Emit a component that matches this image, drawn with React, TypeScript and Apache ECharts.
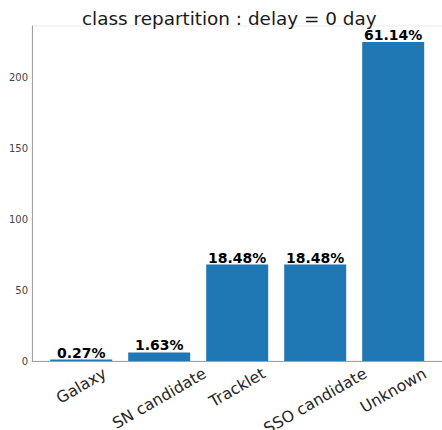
import React, { useEffect, useRef } from "react";
import * as echarts from "echarts";

const categories = ["Galaxy", "SN candidate", "Tracklet", "SSO candidate", "Unknown"];
const counts = [1, 6, 68, 68, 225];
const yTicks = [0, 50, 100, 150, 200];
const titleText = "class repartition : delay = 0 day";

const FONT = "DejaVu Sans";

function measure(text: string, size: number): number {
  const c = document.createElement("canvas");
  const ctx = c.getContext("2d");
  if (!ctx) return text.length * size * 0.6;
  ctx.font = `${size}px "${FONT}"`;
  return ctx.measureText(text).width;
}

export default function App() {
  const ref = useRef<HTMLDivElement>(null);
  useEffect(() => {
    if (!ref.current) return;
    const chart = echarts.init(ref.current, undefined, { renderer: "svg" });
    const total = counts.reduce((a, b) => a + b, 0);
    const labelSize = 15.8;
    const lineH = 16;
    const rich: Record<string, any> = {};
    categories.forEach((c, i) => {
      const w = measure(c, labelSize);
      const d = w / 4 + 0.433 * lineH;
      rich["l" + i] = {
        fontSize: labelSize,
        fontFamily: FONT,
        color: "#262626",
        lineHeight: lineH,
        padding: [1.732 * d, d, 0, 0],
      };
    });
    const yMax = 236.25;
    chart.setOption({
      animation: false,
      title: {
        text: titleText,
        left: 77,
        top: 4,
        textStyle: { fontFamily: FONT, fontSize: 18.4, fontWeight: "normal", color: "#1a1a1a" },
      },
      grid: [
        {
          left: 32,
          right: -1,
          top: 26,
          bottom: 69,
          show: true,
          borderColor: "#ebebeb",
          borderWidth: 1,
          containLabel: false,
          outerBoundsMode: "none",
        },
        {
          left: 42.2,
          width: 390,
          top: 26,
          bottom: 69,
          containLabel: false,
          outerBoundsMode: "none",
        },
      ],
      xAxis: [
        {
          gridIndex: 0,
          type: "value",
          min: 0,
          max: 1,
          splitLine: { show: false },
          axisLine: { show: true, onZero: false, lineStyle: { color: "#a0a0a0", width: 1 } },
          axisTick: { show: false },
          axisLabel: { show: false },
        },
        {
          gridIndex: 1,
          type: "category",
          data: categories,
          axisLine: { show: false },
          axisTick: {
            show: true,
            inside: true,
            length: 2,
            alignWithLabel: true,
            lineStyle: { color: "#b0b0b0", width: 1 },
          },
          axisLabel: {
            interval: 0,
            hideOverlap: false,
            rotate: 30,
            align: "center",
            verticalAlign: "middle",
            margin: 4,
            formatter: (v: string) => `{l${categories.indexOf(v)}|${v}}`,
            rich,
          },
        },
      ],
      yAxis: [
        {
          gridIndex: 0,
          type: "value",
          min: 0,
          max: yMax,
          interval: 50,
          splitLine: { show: false },
          axisLine: { show: true, onZero: false, lineStyle: { color: "#a0a0a0", width: 1 } },
          axisTick: { show: false },
          axisLabel: {
            showMaxLabel: false,
            formatter: (v: number) => (yTicks.indexOf(v) >= 0 ? String(v) : ""),
            fontFamily: FONT,
            fontSize: 10,
            color: "#444",
            margin: 4,
          },
        },
        {
          gridIndex: 1,
          type: "value",
          min: 0,
          max: yMax,
          show: false,
        },
      ],
      series: [
        {
          type: "bar",
          xAxisIndex: 1,
          yAxisIndex: 1,
          barWidth: 62,
          data: counts,
          itemStyle: { color: "#1f77b4" },
          label: {
            show: true,
            position: "top",
            distance: 0,
            fontFamily: FONT,
            fontSize: 14,
            fontWeight: "bold",
            color: "#000",
            formatter: (p: any) => ((p.value / total) * 100).toFixed(2) + "%",
          },
        },
      ],
    });
    return () => chart.dispose();
  }, []);
  return <div ref={ref} style={{ width: 442, height: 430, position: "absolute", left: 0, top: 0 }} />;
}
